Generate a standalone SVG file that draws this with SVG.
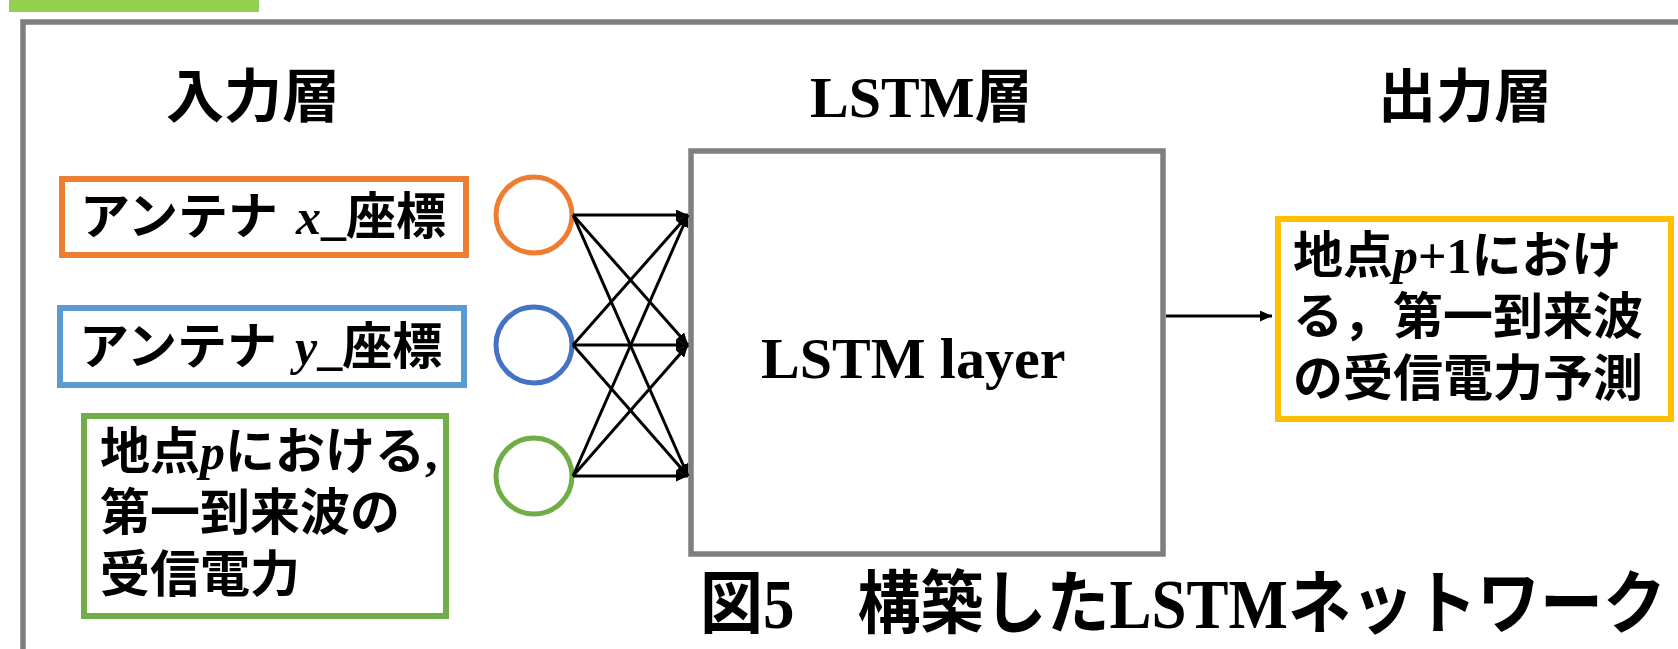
<svg xmlns="http://www.w3.org/2000/svg" width="1678" height="649" viewBox="0 0 1678 649">
<style>
.jp{font-family:"Noto Sans CJK JP","Noto Sans CJK SC",sans-serif;font-weight:700;fill:#000}
.lat{font-family:"Liberation Serif","Times New Roman",serif;font-weight:700}
.it{font-family:"Liberation Serif","Times New Roman",serif;font-weight:700;font-style:italic}
.title{font-size:58px}
.lbl{font-size:50px}
.conn{stroke:#000;stroke-width:3;fill:none;marker-end:url(#ah)}
.node{fill:none;stroke-width:5}
</style>
<defs>
<marker id="ah" markerUnits="userSpaceOnUse" markerWidth="12" markerHeight="11" refX="12" refY="5.5" orient="auto">
<path d="M0,0 L12,5.5 L0,11 z" fill="#000"/>
</marker>
</defs>
<rect x="0" y="0" width="1678" height="649" fill="#fff"/>
<rect id="tab" x="9" y="-5" width="250" height="17" fill="#92D050"/>
<rect id="frame" x="23" y="22" width="2000" height="2000" fill="none" stroke="#7F7F7F" stroke-width="5.5"/>

<g id="titles">
<text class="jp title" x="166" y="117">入力層</text>
<text class="jp title" x="810" y="117"><tspan class="lat">LSTM</tspan>層</text>
<text class="jp title" x="1378" y="117">出力層</text>
</g>

<g id="input-x">
<rect x="62" y="179" width="404" height="76" fill="none" stroke="#ED7D31" stroke-width="6"/>
<text class="jp lbl" x="80" y="233.5">アンテナ<tspan class="it" dx="18">x</tspan><tspan class="lat">_</tspan>座標</text>
</g>
<g id="input-y">
<rect x="60" y="308" width="404" height="77" fill="none" stroke="#5B9BD5" stroke-width="6"/>
<text class="jp lbl" x="79" y="363.5">アンテナ<tspan class="it" dx="18">y</tspan><tspan class="lat">_</tspan>座標</text>
</g>
<g id="input-p">
<rect x="84" y="416" width="362" height="200" fill="none" stroke="#70AD47" stroke-width="6"/>
<text class="jp lbl" x="100" y="469">地点<tspan class="it">p</tspan>における<tspan class="lat">,</tspan></text>
<text class="jp lbl" x="100" y="530">第一到来波の</text>
<text class="jp lbl" x="100" y="592">受信電力</text>
</g>

<g id="node-x"><circle class="node" cx="534" cy="215" r="38" stroke="#ED7D31"/></g>
<g id="node-y"><circle class="node" cx="534" cy="345" r="38" stroke="#4472C4"/></g>
<g id="node-p"><circle class="node" cx="534" cy="476" r="38" stroke="#70AD47"/></g>

<g id="lstm">
<rect x="691" y="151" width="472" height="403" fill="#fff" stroke="#7F7F7F" stroke-width="5.5"/>
<text class="lat" font-size="58" x="761" y="378">LSTM layer</text>
</g>

<g id="output">
<rect x="1278" y="219" width="393" height="200" fill="none" stroke="#FFC000" stroke-width="6"/>
<text class="jp lbl" x="1293" y="273">地点<tspan class="it">p</tspan><tspan class="lat">+1</tspan>におけ</text>
<text class="jp lbl" x="1293" y="334">る，第一到来波</text>
<text class="jp lbl" x="1293" y="396">の受信電力予測</text>
</g>

<g id="connectors">
<line class="conn" x1="573" y1="215" x2="688" y2="215"/>
<line class="conn" x1="573" y1="215" x2="688" y2="345"/>
<line class="conn" x1="573" y1="215" x2="688" y2="476"/>
<line class="conn" x1="573" y1="345" x2="688" y2="215"/>
<line class="conn" x1="573" y1="345" x2="688" y2="345"/>
<line class="conn" x1="573" y1="345" x2="688" y2="476"/>
<line class="conn" x1="573" y1="476" x2="688" y2="215"/>
<line class="conn" x1="573" y1="476" x2="688" y2="345"/>
<line class="conn" x1="573" y1="476" x2="688" y2="476"/>
<line class="conn" x1="1166" y1="316" x2="1272" y2="316" stroke-width="2.5"/>
</g>

<g id="caption">
<text class="jp" font-size="63" transform="translate(700,628) scale(1,1.1)" x="0" y="0">図<tspan class="lat">5</tspan>　構築した<tspan class="lat">LSTM</tspan>ネットワーク</text>
</g>
</svg>
